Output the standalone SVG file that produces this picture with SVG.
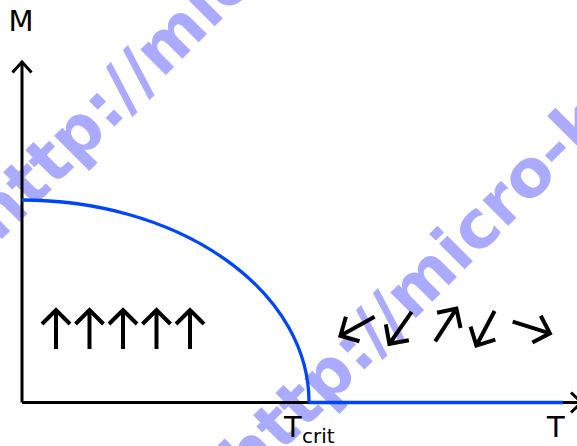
<svg xmlns="http://www.w3.org/2000/svg" width="577" height="446" viewBox="0 0 577 446">
<style>
.wm{font-family:"DejaVu Sans","Liberation Sans",sans-serif;font-weight:bold;font-size:66px;fill:#aaaaff}
.lbl{font-family:"DejaVu Sans","Liberation Sans",sans-serif;font-size:29px;fill:#000}
.axis{fill:none;stroke:#000;stroke-width:3;stroke-linecap:butt;stroke-linejoin:miter}
.mag{fill:none;stroke:#0044ff;stroke-width:3.3}
.spin{fill:none;stroke:#000;stroke-width:4;stroke-linecap:butt;stroke-linejoin:miter}
</style>
<defs>
<path id="spinArrow" class="spin" d="M0,19.5 L0,-19.5 M-14,-5.5 L0,-19.5 L14,-5.5"/>
</defs>
<rect width="577" height="446" fill="#fff"/>
<g id="watermark">
<text class="wm" transform="translate(-2,243) rotate(-45)">http://micro-k</text>
<text class="wm" transform="translate(248,486) rotate(-45)">http://micro-k</text>
</g>
<g id="connectors">
<g id="axes">
<path class="axis" d="M22,402.5 L22,62"/>
<path class="axis" d="M12.5,72.5 L22,62 L31.5,72.5"/>
<path class="axis" d="M22,402.5 L581,402.5"/>
<path class="axis" d="M571,392.5 L581.5,402.5 L571,412.5"/>
</g>
<g id="magnetization">
<path class="mag" d="M22,200 A287,202 0 0 1 309,402.5"/>
<path class="mag" d="M309,402.5 L563,402.5"/>
</g>
</g>
<g id="ordered-spins">
<use href="#spinArrow" transform="translate(56,329.5)"/>
<use href="#spinArrow" transform="translate(89.5,329.5)"/>
<use href="#spinArrow" transform="translate(123,329.5)"/>
<use href="#spinArrow" transform="translate(156.5,329.5)"/>
<use href="#spinArrow" transform="translate(190,329.5)"/>
</g>
<g id="disordered-spins">
<use href="#spinArrow" transform="translate(357.5,326.3) rotate(241)"/>
<use href="#spinArrow" transform="translate(400.5,327.8) rotate(214.8)"/>
<use href="#spinArrow" transform="translate(445.8,325) rotate(33)"/>
<use href="#spinArrow" transform="translate(485.5,328.3) rotate(207.8)"/>
<use href="#spinArrow" transform="translate(531.3,327.5) rotate(107.3)"/>
</g>
<g id="label-M"><text class="lbl" x="8.5" y="31">M</text></g>
<g id="label-Tcrit"><text class="lbl" x="284" y="437">T<tspan x="302" y="443" font-size="20">crit</tspan></text></g>
<g id="label-T"><text class="lbl" x="547" y="436.5">T</text></g>
</svg>
